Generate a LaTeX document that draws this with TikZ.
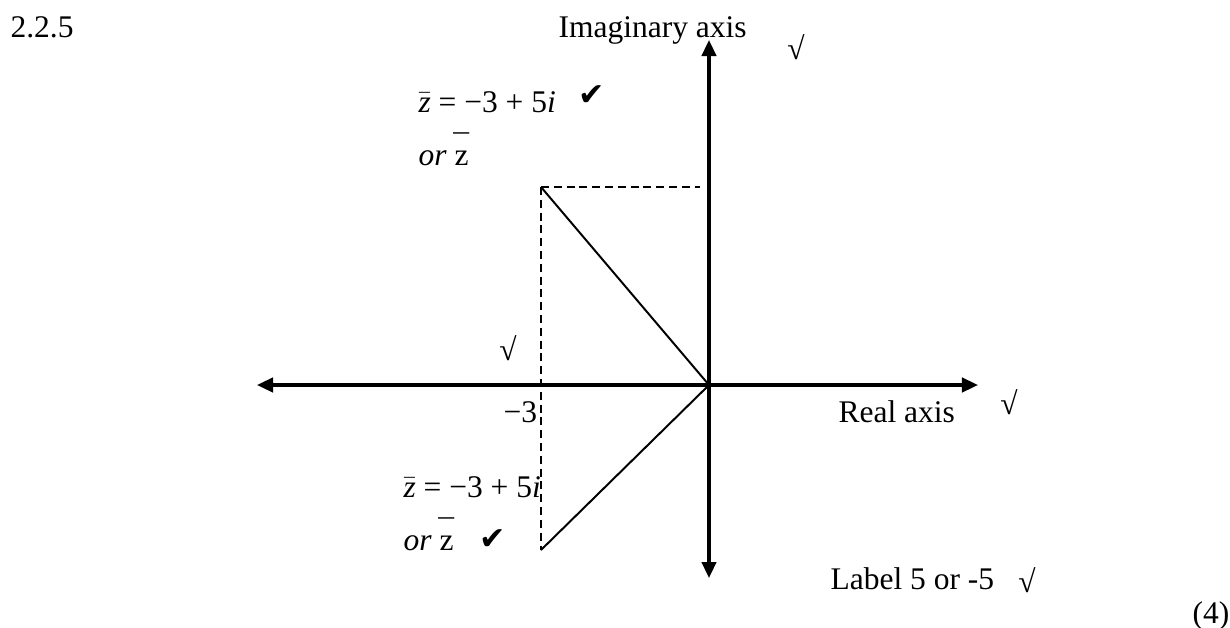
\documentclass[tikz,border=0pt]{standalone}
\usepackage{fontspec}
\setmainfont{Liberation Serif}
\newfontfamily\symfont{DejaVu Sans}
\usetikzlibrary{arrows.meta,positioning,calc}
\newcommand{\tick}{{\symfont\char"2714}}
\newcommand{\zbar}{$\bar{\textit{z}}$}
\newcommand{\zup}{z\llap{\raisebox{0.28em}{\char"AF}\hspace{-0.02em}}}

\begin{document}
\begin{tikzpicture}[
    x=0.0125cm, y=-0.0125cm,
    font=\fontsize{11.2}{13}\selectfont,
    lbl/.style={inner sep=0pt, anchor=base west},
    tickmark/.style={inner sep=0pt},
    axis/.style={line width=1.1pt, {Triangle[length=2mm, width=1.8mm]}-{Triangle[length=2mm, width=1.8mm]}},
    guide/.style={line width=0.55pt, dash pattern=on 1mm off 0.6mm},
    side/.style={line width=0.7pt},
]
    \useasboundingbox (0,0) rectangle (1230,628);

    % axes
    \coordinate (O) at (709,385);
    \coordinate (ytop) at (709,40);
    \coordinate (ybot) at (709,578);
    \coordinate (xleft) at (257,385);
    \coordinate (xright) at (978,385);
    \draw[axis] (ybot) -- (ytop);
    \draw[axis] (xleft) -- (xright);

    % conjugate point and its mirror
    \coordinate (zc) at (541,187);
    \coordinate (zm) at (541,550);
    \coordinate (yfoot) at (700,187);
    \draw[guide] (zc) -- (yfoot);
    \draw[guide] (zc) -- (zm);
    \draw[side] (zc) -- (O) -- (zm);

    % labels
    \node[lbl] (num) at (10,37) {2.2.5};
    \node[lbl] (imag) at (558,37) {Imaginary axis};
    \node[tickmark] (imagok) at (796,47) {√};
    \node[lbl] (real) at (838,422) {Real axis};
    \node[tickmark] (realok) at (1009,402) {√};
    \node[lbl] (three) at (503,422) {−3};
    \node[tickmark] (threeok) at (508,348) {√};

    \node[lbl] (ztop) at (418,112) {\zbar{} = −3 + 5\textit{i}};
    \node[tickmark] (ztopok) at (592,96) {\tick};
    \node[lbl] (ortop) at (418,165) {\textit{or} \zup};

    \node[lbl] (zbot) at (403,497) {\zbar{} = −3 + 5\textit{i}};
    \node[lbl] (orbot) at (403,550) {\textit{or} \zup};
    \node[tickmark] (orbotok) at (493,540) {\tick};

    \node[lbl] (five) at (830,589) {Label 5 or -5};
    \node[tickmark] (fiveok) at (1027,580) {√};
    \node[inner sep=0pt, anchor=base east] (marks) at (1230,623) {(4)};
\end{tikzpicture}
\end{document}
